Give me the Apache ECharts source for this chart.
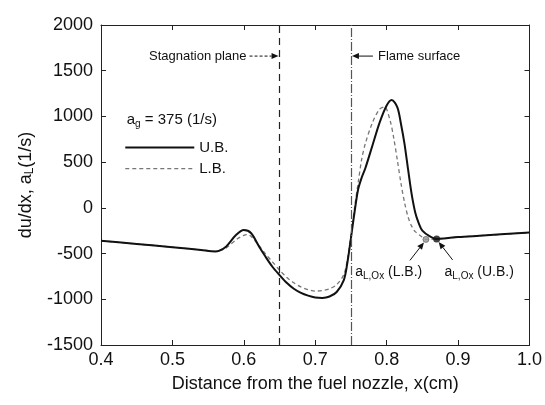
<!DOCTYPE html>
<html><head><meta charset="utf-8">
<script src="https://cdn.jsdelivr.net/npm/echarts@6/dist/echarts.min.js"></script>
<style>html,body{margin:0;padding:0;background:#fff}#c{width:545px;height:405px}</style>
</head><body><div id="c"></div>
<script>
// ---- data ----
const xTicks = [0.4, 0.5, 0.6, 0.7, 0.8, 0.9, 1.0];
const yTicks = [-1500, -1000, -500, 0, 500, 1000, 1500, 2000];
const ubX = [0.40,0.45,0.50,0.54,0.56,0.565,0.575,0.589,0.60,0.61,0.6215,0.63,0.64,0.65,0.66,0.67,0.68,0.69,0.70,0.71,0.72,0.73,0.74,0.745,0.75,0.755,0.76,0.765,0.77,0.78,0.79,0.80,0.807,0.815,0.82,0.825,0.83,0.835,0.84,0.845,0.85,0.86,0.87,0.88,0.90,0.93,0.96,1.00];
const ubY = [-360,-395,-430,-460,-476,-470,-425,-297,-243,-275,-425,-530,-644,-735,-820,-885,-930,-960,-980,-985,-970,-920,-790,-600,-330,-50,200,330,430,680,930,1120,1180,1100,920,700,420,150,-50,-170,-250,-310,-340,-335,-320,-305,-290,-270];
const lbX = [0.40,0.45,0.50,0.54,0.56,0.565,0.575,0.59,0.60,0.605,0.61,0.62,0.63,0.64,0.65,0.66,0.67,0.68,0.69,0.70,0.71,0.72,0.73,0.74,0.745,0.75,0.755,0.76,0.765,0.77,0.78,0.79,0.797,0.805,0.81,0.815,0.82,0.825,0.83,0.835,0.84,0.85,0.855,0.86,0.87,0.88,0.90,0.93,0.96,1.00];
const lbY = [-360,-395,-430,-460,-476,-472,-440,-345,-300,-292,-310,-400,-500,-590,-680,-760,-820,-865,-895,-910,-905,-885,-840,-730,-560,-300,0,270,530,700,930,1080,1105,950,760,520,270,60,-100,-200,-260,-320,-345,-345,-340,-335,-320,-305,-290,-270];
const pointUB = [0.870, -340];
const pointLB = [0.855, -345];
const stagnationX = 0.65;
const flameX = 0.75;
const seriesNames = ['U.B.', 'L.B.'];

const font = 'Liberation Sans, Arial, sans-serif';
const chart = echarts.init(document.getElementById('c'));
const zip = (a, b) => a.map((v, i) => [v, b[i]]);

const axisCommon = {
  type: 'value', splitLine: {show: false},
  axisLine: {show: true, onZero: false, lineStyle: {color: '#222', width: 1}},
  axisTick: {show: true, inside: true, length: 5, lineStyle: {color: '#222'}}
};

chart.setOption({
  animation: false,
  grid: {left: 101, right: 15, top: 25, bottom: 60},
  xAxis: [
    Object.assign({}, axisCommon, {
      position: 'bottom', min: xTicks[0], max: xTicks[xTicks.length - 1], interval: 0.1,
      axisLabel: {fontFamily: font, fontSize: 18, color: '#111', margin: 6, formatter: v => v.toFixed(1)},
      name: 'Distance from the fuel nozzle, x(cm)', nameLocation: 'middle', nameGap: 30,
      nameTextStyle: {fontFamily: font, fontSize: 18, color: '#111'}
    }),
    Object.assign({}, axisCommon, {
      position: 'top', min: xTicks[0], max: xTicks[xTicks.length - 1], interval: 0.1,
      axisLabel: {show: false}
    })
  ],
  yAxis: [
    Object.assign({}, axisCommon, {
      position: 'left', min: yTicks[0], max: yTicks[yTicks.length - 1], interval: 500,
      axisLabel: {fontFamily: font, fontSize: 18, color: '#111', margin: 8, formatter: v => String(v)},
      name: '{n|du/dx, a}{s|L}{n|(1/s)}', nameLocation: 'middle', nameGap: 58,
      nameTextStyle: {
        fontFamily: font, fontSize: 18, color: '#111',
        rich: {n: {fontFamily: font, fontSize: 18, color: '#111'},
               s: {fontFamily: font, fontSize: 12, color: '#111', padding: [8, 0, 0, 0]}}
      }
    }),
    Object.assign({}, axisCommon, {
      position: 'right', min: yTicks[0], max: yTicks[yTicks.length - 1], interval: 500,
      axisLabel: {show: false}
    })
  ],
  series: [
    {
      name: seriesNames[0], type: 'line', data: zip(ubX, ubY), smooth: 0.3, showSymbol: false, symbol: 'none',
      lineStyle: {color: '#111', width: 2},
      itemStyle: {color: '#111'},
      markLine: {
        silent: true, symbol: 'none', label: {show: false},
        data: [
          {xAxis: stagnationX, lineStyle: {color: '#222', width: 1.2, type: [7, 5]}},
          {xAxis: flameX, lineStyle: {color: '#555', width: 1.2, type: [9, 2, 1, 2]}}
        ]
      },
      z: 3
    },
    {
      name: seriesNames[1], type: 'line', data: zip(lbX, lbY), smooth: 0.3, showSymbol: false, symbol: 'none',
      lineStyle: {color: '#777', width: 1.3, type: [4, 3]},
      itemStyle: {color: '#777'},
      z: 2
    },
    {
      type: 'scatter', data: [pointUB], symbol: 'circle', symbolSize: 7,
      itemStyle: {color: '#111'}, z: 5, silent: true
    },
    {
      type: 'scatter', data: [pointLB], symbol: 'circle', symbolSize: 6,
      itemStyle: {color: '#999', borderColor: '#555', borderWidth: 0.8}, z: 5, silent: true
    }
  ]
});

// ---- annotations anchored in data coordinates ----
const px = p => chart.convertToPixel({gridIndex: 0}, p);
const annY = 1660;
const sPx = px([stagnationX, annY]);
const fPx = px([flameX, annY]);
const ubPx = px(pointUB);
const lbPx = px(pointLB);
const agPx = px([0.436, 960]);
const legUB = px([0.434, 660]);
const legLB = px([0.434, 430]);
const labLB = px([0.756, -700]);
const labUB = px([0.881, -700]);

function arrow(x1, y1, x2, y2, dashed) {
  const ang = Math.atan2(y2 - y1, x2 - x1);
  const L = 7, W = 3;
  const bx = x2 - L * Math.cos(ang), by = y2 - L * Math.sin(ang);
  const nx = -Math.sin(ang) * W, ny = Math.cos(ang) * W;
  return [
    {type: 'line', shape: {x1, y1, x2: bx, y2: by}, style: {stroke: '#111', lineWidth: 1, lineDash: dashed ? [3, 2] : null}},
    {type: 'polygon', shape: {points: [[x2, y2], [bx + nx, by + ny], [bx - nx, by - ny]]}, style: {fill: '#111'}}
  ];
}
const sub = {
  n: {fontFamily: font, fontSize: 15, fill: '#111'},
  s: {fontFamily: font, fontSize: 10, fill: '#111', padding: [9, 0, 0, 0]}
};
const subA = {
  n: {fontFamily: font, fontSize: 14, fill: '#111'},
  s: {fontFamily: font, fontSize: 10, fill: '#111', padding: [9, 0, 0, 0]}
};
const g = [
  {type: 'text', x: sPx[0] - 33, y: sPx[1], style: {text: 'Stagnation plane', fontFamily: font, fontSize: 13, fill: '#111', align: 'right', verticalAlign: 'middle'}},
  ...arrow(sPx[0] - 30, sPx[1], sPx[0] - 1, sPx[1], true),
  {type: 'text', x: fPx[0] + 27, y: fPx[1], style: {text: 'Flame surface', fontFamily: font, fontSize: 13, fill: '#111', align: 'left', verticalAlign: 'middle'}},
  ...arrow(fPx[0] + 22, fPx[1], fPx[0] + 1, fPx[1], false),
  {type: 'text', x: agPx[0], y: agPx[1], style: {text: '{n|a}{s|g}{n| = 375 (1/s)}', rich: sub, verticalAlign: 'middle', align: 'left'}},
  {type: 'line', shape: {x1: legUB[0], y1: legUB[1], x2: legUB[0] + 69, y2: legUB[1]}, style: {stroke: '#111', lineWidth: 2}},
  {type: 'text', x: legUB[0] + 74, y: legUB[1], style: {text: seriesNames[0], fontFamily: font, fontSize: 15, fill: '#111', verticalAlign: 'middle'}},
  {type: 'line', shape: {x1: legLB[0], y1: legLB[1], x2: legLB[0] + 69, y2: legLB[1]}, style: {stroke: '#777', lineWidth: 1.3, lineDash: [4, 3]}},
  {type: 'text', x: legLB[0] + 74, y: legLB[1], style: {text: seriesNames[1], fontFamily: font, fontSize: 15, fill: '#111', verticalAlign: 'middle'}},
  {type: 'text', x: labLB[0], y: labLB[1], style: {text: '{n|a}{s|L,Ox}{n| (L.B.)}', rich: subA, verticalAlign: 'middle', align: 'left'}},
  {type: 'text', x: labUB[0], y: labUB[1], style: {text: '{n|a}{s|L,Ox}{n| (U.B.)}', rich: subA, verticalAlign: 'middle', align: 'left'}},
  ...arrow(lbPx[0] - 16, lbPx[1] + 21, lbPx[0] - 2, lbPx[1] + 3, false),
  ...arrow(ubPx[0] + 16, ubPx[1] + 21, ubPx[0] + 2, ubPx[1] + 3, false)
];
chart.setOption({graphic: g});
</script>
</body></html>
